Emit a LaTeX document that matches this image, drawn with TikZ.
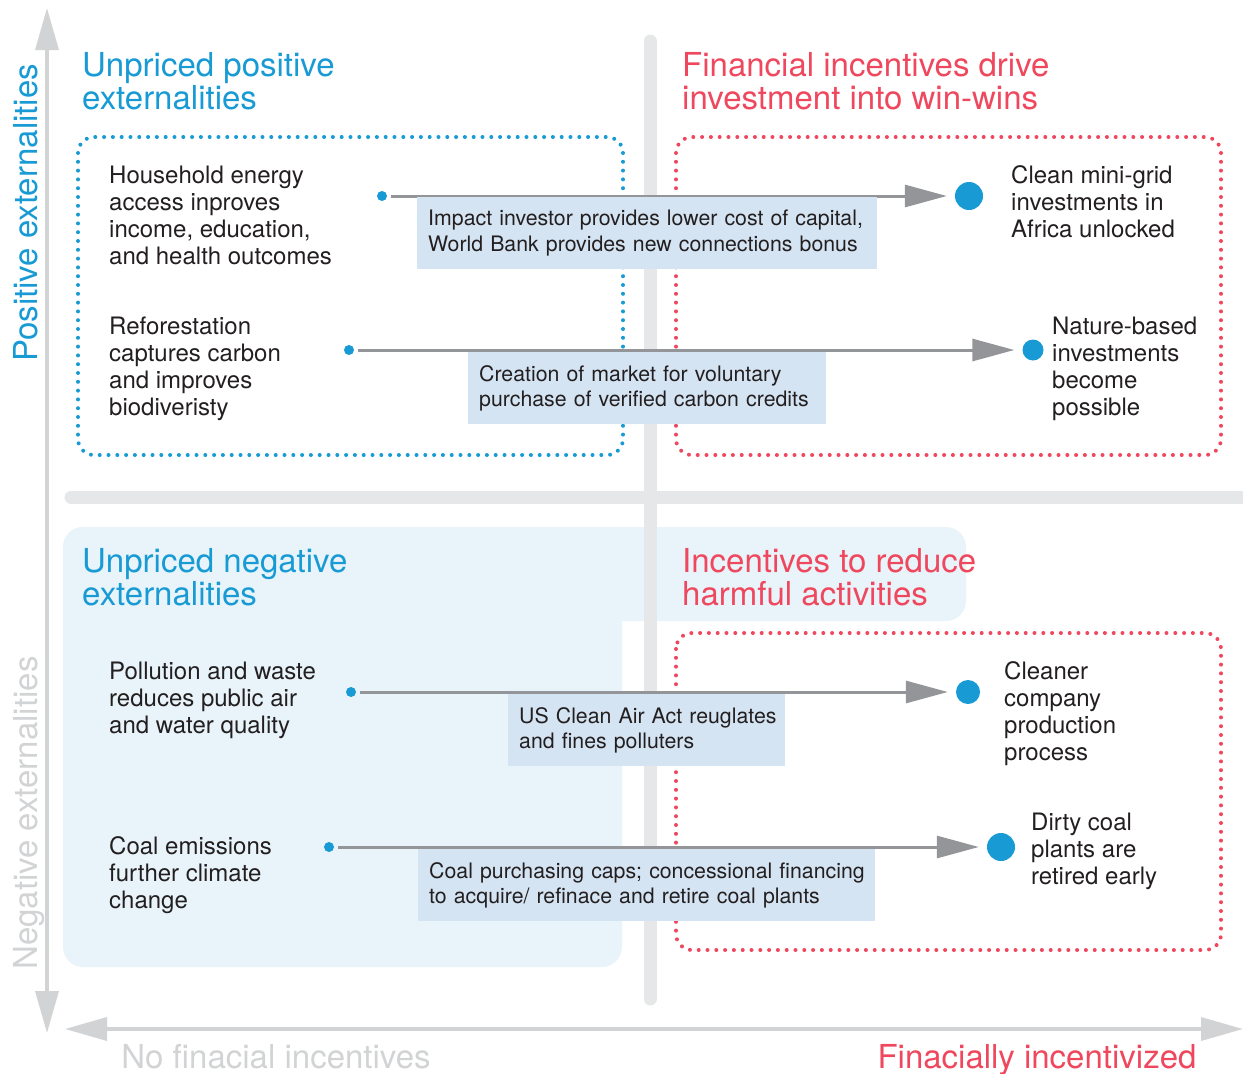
\documentclass[tikz,border=0pt]{standalone}
\usepackage{fontspec}
\setmainfont{TeX Gyre Heros}
\usetikzlibrary{arrows.meta, positioning}

\definecolor{capblue}{RGB}{24,154,212}
\definecolor{capred}{RGB}{239,72,94}
\definecolor{ink}{RGB}{35,31,32}
\definecolor{paleblue}{RGB}{232,244,250}
\definecolor{fundblue}{RGB}{213,228,242}
\definecolor{bargray}{RGB}{230,231,232}
\definecolor{axisgray}{RGB}{209,211,212}
\definecolor{flowgray}{RGB}{147,149,152}

\tikzset{
    heading/.style={align=left, anchor=base west, inner sep=0pt, font=\fontsize{33}{33}\selectfont},
    note/.style={align=left, anchor=base west, inner sep=0pt, text=ink, font=\fontsize{24}{26.7}\selectfont},
    fund/.style={rectangle, fill=fundblue, anchor=north west, align=left, inner xsep=11pt, inner ysep=0pt, minimum height=72pt, text=ink, font=\fontsize{21.3}{25.5}\selectfont},
    src/.style={circle, fill=capblue, inner sep=0pt, minimum size=10pt},
    dest/.style={circle, fill=capblue, inner sep=0pt, minimum size=28pt},
    flow/.style={flowgray, line width=3pt, shorten <=4pt, shorten >=8pt, -{Triangle[length=42pt, width=22pt]}},
    fence/.style={line width=4pt, line cap=round, dash pattern=on 0pt off 8.8pt, rounded corners=16pt},
    bar/.style={bargray, line width=13pt, line cap=round},
    axis/.style={axisgray, line width=3.5pt, {Triangle[length=42pt, width=23pt]}-{Triangle[length=42pt, width=23pt]}},
    axislabel/.style={anchor=base, inner sep=0pt, font=\fontsize{33}{33}\selectfont}
}

\begin{document}
\begin{tikzpicture}[x=1pt, y=-1pt]
    \useasboundingbox (0,0) rectangle (1243,1074);

    % Shaded negative quadrant
    \fill[paleblue, rounded corners=20pt] (63,527) rectangle (622,967);
    \fill[paleblue, rounded corners=20pt] (63,527) rectangle (966,621);

    % Quadrant dividers
    \draw[bar] (650,41) -- (650,999);
    \draw[bar] (71,497) -- (1262,497);

    % Axes
    \coordinate (ytop) at (47,8);
    \coordinate (ybot) at (47,1033);
    \coordinate (xleft) at (65,1029);
    \coordinate (xright) at (1243,1029);
    \draw[axis] (ybot) -- (ytop);
    \draw[axis] (xleft) -- (xright);

    \node (posY) [axislabel, rotate=90, text=capblue] at (37,213) {Positive externalities};
    \node (negY) [axislabel, rotate=90, text=axisgray] at (37,813) {Negative externalities};
    \node (noX) [axislabel, text=axisgray] at (276,1068) {No finacial incentives};
    \node (yesX) [axislabel, text=capred] at (1037,1068) {Finacially incentivized};

    % Dotted groups
    \draw[fence, capblue] (78,137) rectangle (623,455);
    \draw[fence, capred] (676,137) rectangle (1221,455);
    \draw[fence, capred] (676,633) rectangle (1221,950);

    % Quadrant titles (anchored on last line)
    \node (posT) [heading, text=capblue] at (82,109) {Unpriced positive\\externalities};
    \node (finT) [heading, text=capred] at (682,109) {Financial incentives drive\\investment into win-wins};
    \node (negT) [heading, text=capblue] at (82,605) {Unpriced negative\\externalities};
    \node (redT) [heading, text=capred] at (682,605) {Incentives to reduce\\harmful activities};

    % Externalities
    \node (energy) [note] at (109,264) {Household energy\\access inproves\\income, education,\\and health outcomes};
    \node (forest) [note] at (109,415) {Reforestation\\captures carbon\\and improves\\biodiveristy};
    \node (pollution) [note] at (109,733) {Pollution and waste\\reduces public air\\and water quality};
    \node (coal) [note] at (109,908) {Coal emissions\\further climate\\change};

    % Outcomes
    \node (minigrid) [note] at (1011,237) {Clean mini-grid\\investments in\\Africa unlocked};
    \node (nature) [note] at (1052,415) {Nature-based\\investments\\become\\possible};
    \node (cleaner) [note] at (1004,760) {Cleaner\\company\\production\\process};
    \node (retired) [note] at (1031,884) {Dirty coal\\plants are\\retired early};

    % Flows
    \node (s1) [src] at (382,196) {};
    \node (e1) [dest] at (969,196) {};
    \node (s2) [src] at (349,350) {};
    \node (e2) [dest, minimum size=21pt] at (1033,350) {};
    \node (s3) [src] at (351,692) {};
    \node (e3) [dest, minimum size=24pt] at (968,692) {};
    \node (s4) [src] at (329,847) {};
    \node (e4) [dest] at (1001,847) {};

    \draw[flow] (s1) -- (e1);
    \draw[flow] (s2) -- (e2);
    \draw[flow] (s3) -- (e3);
    \draw[flow] (s4) -- (e4);

    % Policy levers
    \node (fund1) [fund, text width=438pt] at (417,197) {\mbox{Impact investor provides lower cost of capital,}\\\mbox{World Bank provides new connections bonus}};
    \node (fund2) [fund, text width=336pt] at (468,352) {\mbox{Creation of market for voluntary}\\\mbox{purchase of verified carbon credits}};
    \node (fund3) [fund, text width=255pt] at (508,694) {\mbox{US Clean Air Act reuglates}\\\mbox{and fines polluters}};
    \node (fund4) [fund, text width=435pt] at (418,849) {\mbox{Coal purchasing caps; concessional financing}\\\mbox{to acquire/ refinace and retire coal plants}};
\end{tikzpicture}
\end{document}
